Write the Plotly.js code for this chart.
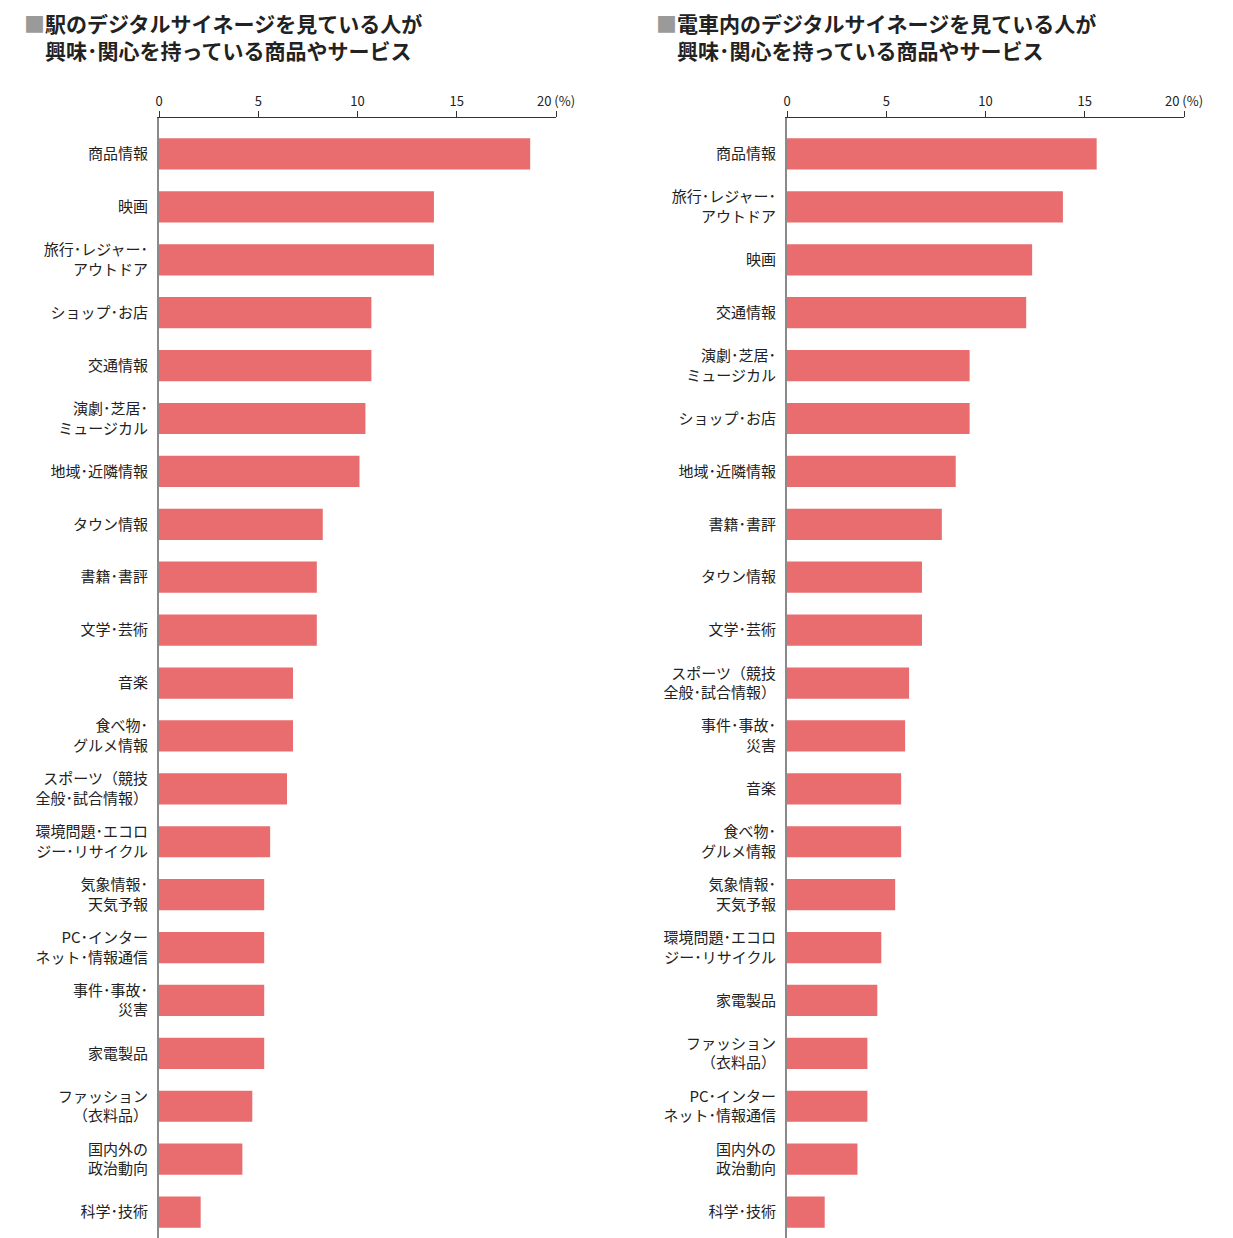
<!DOCTYPE html>
<html>
<head>
<meta charset="utf-8">
<script src="https://cdn.plot.ly/plotly-3.0.1.min.js"></script>
<style>html,body{margin:0;padding:0;background:#fff;}#chart{width:1233px;height:1238px;}</style>
</head>
<body>
<div id="chart"></div>
<script>
const leftCategories = [
  "商品情報", "映画", "旅行･レジャー･<br>アウトドア", "ショップ･お店", "交通情報",
  "演劇･芝居･<br>ミュージカル", "地域･近隣情報", "タウン情報", "書籍･書評", "文学･芸術",
  "音楽", "食べ物･<br>グルメ情報", "スポーツ（競技<br>全般･試合情報）", "環境問題･エコロ<br>ジー･リサイクル",
  "気象情報･<br>天気予報", "PC･インター<br>ネット･情報通信", "事件･事故･<br>災害", "家電製品",
  "ファッション<br>（衣料品）", "国内外の<br>政治動向", "科学･技術"
];
const leftValues = [18.7, 13.85, 13.85, 10.7, 10.7, 10.4, 10.1, 8.25, 7.95, 7.95,
  6.75, 6.75, 6.45, 5.6, 5.3, 5.3, 5.3, 5.3, 4.7, 4.2, 2.1];

const rightCategories = [
  "商品情報", "旅行･レジャー･<br>アウトドア", "映画", "交通情報", "演劇･芝居･<br>ミュージカル",
  "ショップ･お店", "地域･近隣情報", "書籍･書評", "タウン情報", "文学･芸術",
  "スポーツ（競技<br>全般･試合情報）", "事件･事故･<br>災害", "音楽", "食べ物･<br>グルメ情報",
  "気象情報･<br>天気予報", "環境問題･エコロ<br>ジー･リサイクル", "家電製品",
  "ファッション<br>（衣料品）", "PC･インター<br>ネット･情報通信", "国内外の<br>政治動向", "科学･技術"
];
const rightValues = [15.6, 13.9, 12.35, 12.05, 9.2, 9.2, 8.5, 7.8, 6.8, 6.8,
  6.15, 5.95, 5.75, 5.75, 5.45, 4.75, 4.55, 4.05, 4.05, 3.55, 1.9];

const tickVals = [0, 5, 10, 15, 20];
const tickText = ["0", "5", "10", "15", "20 (%)"];

const leftTitle = '<span style="color:#9a9a9a">■</span>駅のデジタルサイネージを見ている人が<br>　興味･関心を持っている商品やサービス';
const rightTitle = '<span style="color:#9a9a9a">■</span>電車内のデジタルサイネージを見ている人が<br>　興味･関心を持っている商品やサービス';

const barColor = '#E96C6F';
const FONT = '"Noto Sans CJK JP", "Noto Sans", sans-serif';

const traces = [
  {type: 'bar', orientation: 'h', x: leftValues, y: leftCategories, xaxis: 'x', yaxis: 'y',
   marker: {color: barColor}, hoverinfo: 'none'},
  {type: 'bar', orientation: 'h', x: rightValues, y: rightCategories, xaxis: 'x2', yaxis: 'y2',
   marker: {color: barColor}, hoverinfo: 'none'}
];

const W = 1233, H = 1238;
const yTop = 1 - 118 / H;
const nCat = leftCategories.length;
const yRange = [nCat - 1 + 0.49, -0.68];

function xax(domain, anchor) {
  return {
    domain: domain, anchor: anchor, side: 'top', range: [0, 20],
    tickvals: tickVals, ticktext: tickText, ticks: 'outside', ticklen: 6, tickcolor: '#333',
    showline: true, linecolor: '#333', linewidth: 1, showgrid: false, zeroline: false,
    tickfont: {size: 13, color: '#222', family: FONT}, fixedrange: true
  };
}
function yax(anchor) {
  return {
    domain: [0, yTop], anchor: anchor, type: 'category', range: yRange,
    showline: true, linecolor: '#8a8a8a', linewidth: 2, showgrid: false, zeroline: false,
    ticks: '', ticklabelstandoff: 6,
    tickfont: {size: 15, color: '#222', family: FONT}, fixedrange: true
  };
}

const layout = {
  width: W, height: H,
  margin: {l: 0, r: 0, t: 0, b: 0},
  paper_bgcolor: '#fff', plot_bgcolor: '#fff',
  showlegend: false, bargap: 0.41,
  font: {family: FONT, color: '#222'},
  xaxis: xax([159 / W, 556 / W], 'y'),
  yaxis: yax('x'),
  xaxis2: xax([787 / W, 1184 / W], 'y2'),
  yaxis2: yax('x2'),
  annotations: [
    {xref: 'paper', yref: 'paper', x: 22 / W, y: 1 - 6 / H, xanchor: 'left', yanchor: 'top', align: 'left',
     text: leftTitle, showarrow: false, font: {size: 21, color: '#222', family: FONT, weight: 'bold'}},
    {xref: 'paper', yref: 'paper', x: 654 / W, y: 1 - 6 / H, xanchor: 'left', yanchor: 'top', align: 'left',
     text: rightTitle, showarrow: false, font: {size: 21, color: '#222', family: FONT, weight: 'bold'}}
  ]
};

Plotly.newPlot('chart', traces, layout, {staticPlot: true, displayModeBar: false});
</script>
</body>
</html>
